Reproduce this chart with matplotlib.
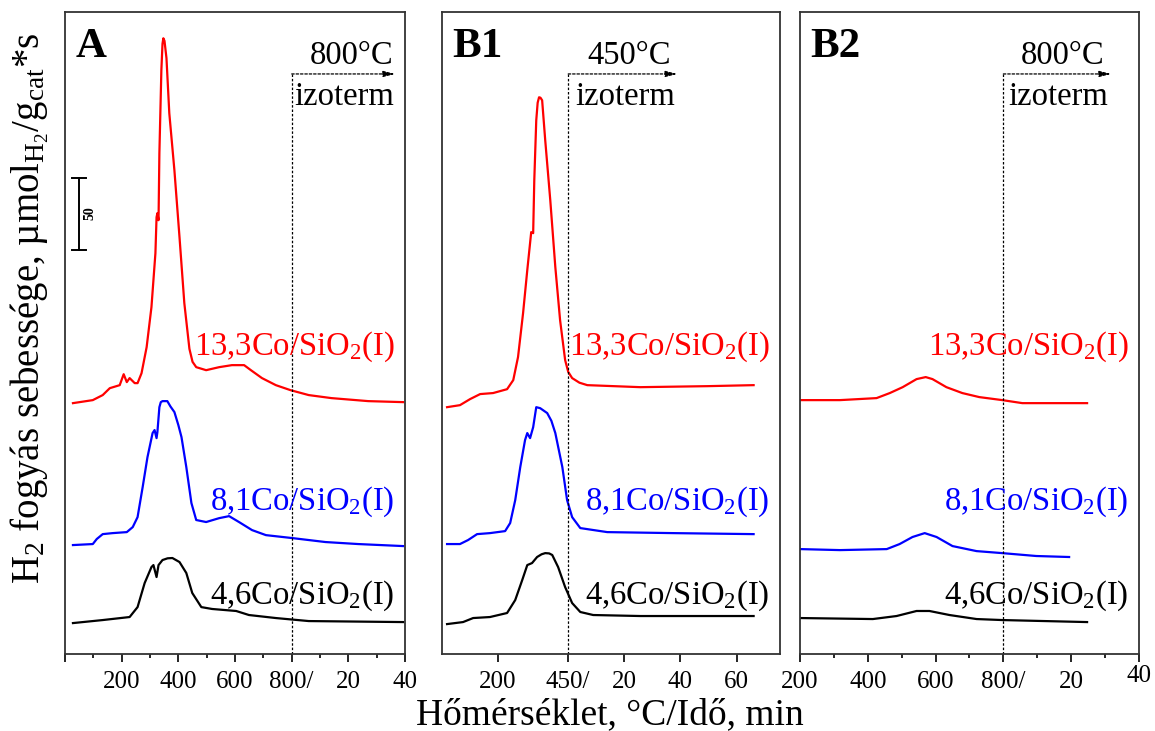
import numpy as np
import matplotlib.pyplot as plt

plt.rcParams['font.family'] = ['Liberation Serif', 'DejaVu Serif']
plt.rcParams['mathtext.fontset'] = 'custom'
plt.rcParams['mathtext.rm'] = 'Liberation Serif'
plt.rcParams['mathtext.it'] = 'Liberation Serif:italic'
plt.rcParams['mathtext.bf'] = 'Liberation Serif:bold'

# x: temperature (degC) during the ramp, then 800 (or 450) + 10*min in the isotherm
# y: H2 consumption rate, umol/(g_cat*s), each curve above its own baseline

# --- panel A (ramp to 800 C) ---
a_red_x = [28, 98, 133, 158, 193, 207, 218, 228, 246, 256, 270, 288, 305, 319, 323, 326, 330, 333, 340, 344, 347,
           351, 358, 368, 386, 404, 421, 439, 450, 463, 498, 544, 589, 632, 656, 695, 744, 796, 860, 940, 1070, 1193]
a_red_y = [0.3, 2.4, 5.9, 10.7, 12.8, 20.4, 14.9, 17.7, 14.2, 14.2, 21.1, 39.2, 67, 104.5, 129.5, 132.3, 127.4,
           173.9, 231.6, 250, 253.8, 252, 240, 201.7, 162.1, 115.6, 69.8, 38, 29, 25.3, 23.2, 25.3, 26.7, 26.7, 23.2,
           17.7, 12.8, 9.3, 5.9, 3.8, 1.7, 1.0]
a_blue_x = [28, 98, 112, 133, 168, 218, 239, 256, 274, 291, 309, 316, 323, 326, 333, 338, 344, 361, 372, 386, 400,
            411, 428, 446, 463, 498, 544, 579, 614, 660, 709, 800, 919, 1035, 1193]
a_blue_y = [0.7, 1.4, 4.9, 8.3, 9, 9.7, 13.2, 20.1, 41, 61.8, 78.5, 80.6, 75, 79.2, 96.5, 100, 100.7, 100.7, 97,
            93.1, 84, 75.7, 54.9, 29.9, 18.1, 16.7, 19.4, 20.8, 16.7, 11.1, 7.6, 5.6, 2.8, 1.4, 0]
a_black_x = [28, 133, 228, 256, 281, 305, 312, 323, 330, 344, 362, 379, 404, 428, 449, 481, 519, 604, 649, 744, 860,
             1193]
a_black_y = [0, 2.1, 4.2, 11.1, 27.8, 38.9, 40.3, 32, 40.3, 43.8, 45, 45.2, 42.4, 34.8, 20.9, 11.1, 9.8, 8.4, 5.6,
             3.5, 1.4, 0.7]

# --- panel B1 (ramp to 450 C) ---
b1_red_x = [18, 64, 100, 136, 182, 232, 254, 271, 289, 304, 318, 325, 329, 336, 341, 346, 351, 357, 368, 386, 404,
            421, 439, 450, 464, 490, 518, 707, 946, 1111]
b1_red_y = [0.5, 1.9, 6.1, 9.6, 10.3, 13, 19.3, 35.3, 65.8, 95.7, 122.1, 121.4, 158.2, 199.8, 212, 215.8, 215.5,
            213.7, 185.9, 144.3, 97.8, 60.9, 33.2, 25, 20.7, 17.5, 15.8, 14.4, 15.1, 15.8]
b1_blue_x = [18, 64, 93, 125, 171, 225, 243, 261, 279, 296, 304, 314, 325, 336, 350, 375, 390, 404, 429, 446, 464,
             493, 589, 825, 1111]
b1_blue_y = [0.4, 0.4, 3.2, 7.3, 8, 9.4, 15, 30.9, 53.9, 72.6, 77.5, 74, 81.6, 95.5, 94.8, 91.4, 86, 77.5, 53.9,
             30.9, 19.1, 11.5, 8.7, 8, 7.3]
b1_black_x = [18, 75, 111, 171, 232, 261, 286, 304, 321, 339, 355, 368, 382, 393, 414, 439, 464, 493, 539, 707, 1111]
b1_black_y = [0.3, 1.7, 4.5, 5.2, 8, 17, 30.9, 41.3, 42.7, 46.9, 48.8, 49.6, 49.4, 48.3, 39.9, 26, 14.9, 8.7, 6.6,
              5.9, 5.9]

# --- panel B2 (second run to 800 C) ---
b2_red_x = [200, 318, 426, 465, 503, 544, 571, 591, 632, 679, 729, 797, 856, 1047]
b2_red_y = [0.4, 0.4, 1.8, 5.3, 9.4, 15, 16.4, 15, 9.4, 5.3, 2.5, 0.4, -1.7, -1.7]
b2_blue_x = [200, 318, 456, 494, 532, 568, 603, 650, 721, 797, 897, 994]
b2_blue_y = [0.4, -0.3, 0.4, 3.9, 8.8, 11.5, 8.8, 2.5, -1, -2.4, -4.4, -5.1]
b2_black_x = [200, 415, 485, 544, 582, 641, 721, 797, 1047]
b2_black_y = [0.5, -0.2, 1.9, 5.4, 5.4, 2.6, -0.2, -0.9, -2.3]

samples = ['13,3Co/SiO$_2$(I)', '8,1Co/SiO$_2$(I)', '4,6Co/SiO$_2$(I)']
colors = ['#ff0000', '#0000ff', 'black']

panels = [
    dict(name='A', T_iso=800, label_T='800°C', xlim=(0, 1200),
         ticks=[0, 200, 400, 600, 800, 1000, 1200], ticklabels=['', '200', '400', '600', '800/', '20', '40'],
         minor=True, curves=[(a_red_x, a_red_y, 174), (a_blue_x, a_blue_y, 75), (a_black_x, a_black_y, 21.5)],
         arrow_end=1165, text_x=1010, izo_x=808),
    dict(name='B1', T_iso=450, label_T='450°C', xlim=(0, 1205),
         ticks=[200, 450, 650, 850, 1050], ticklabels=['200', '450/', '20', '40', '60'],
         minor=False, curves=[(b1_red_x, b1_red_y, 171), (b1_blue_x, b1_blue_y, 76), (b1_black_x, b1_black_y, 20.5)],
         arrow_end=839, text_x=668, izo_x=476),
    dict(name='B2', T_iso=800, label_T='800°C', xlim=(200, 1200),
         ticks=[200, 400, 600, 800, 1000, 1200], ticklabels=['200', '400', '600', '800/', '20', ''],
         minor=True, curves=[(b2_red_x, b2_red_y, 176), (b2_blue_x, b2_blue_y, 72.5), (b2_black_x, b2_black_y, 24.5)],
         arrow_end=1118, text_x=975, izo_x=815),
]
scale_bar = 50
y_arrow = 403

fig = plt.figure(figsize=(11.55, 7.31), dpi=100)
lefts = [0.0563, 0.3827, 0.6926]
widths = [0.2944, 0.2926, 0.2935]

for i, p in enumerate(panels):
    ax = fig.add_axes([lefts[i], 0.1053, widths[i], 0.8782])
    for (x, y, off), c in zip(p['curves'], colors):
        ax.plot(x, np.array(y) + off, color=c, lw=1.6)
    for s, c, yy in zip(samples, colors, [0.478, 0.237, 0.090]):
        ax.text(0.97, yy, s, color=c, fontsize=23.5, ha='right', va='center', transform=ax.transAxes)
    ax.text(0.03, 0.975, p['name'], fontsize=31, fontweight='bold', ha='left', va='top', transform=ax.transAxes)

    # isotherm marker
    ax.plot([p['T_iso'], p['T_iso']], [0, y_arrow], color='black', lw=0.9, ls=(0, (2, 1.5)))
    ax.annotate('', xy=(p['arrow_end'], y_arrow), xytext=(p['T_iso'], y_arrow),
                arrowprops=dict(arrowstyle='-|>,head_length=0.7,head_width=0.18', color='black',
                                lw=0.9, ls=(0, (2, 1.5)), shrinkA=0, shrinkB=0))
    ax.text(p['text_x'], y_arrow + 2, p['label_T'], fontsize=23.5, ha='center', va='bottom')
    ax.text(p['izo_x'], y_arrow - 5, 'izoterm', fontsize=23.5, ha='left', va='top')

    ax.set_xlim(p['xlim'])
    ax.set_ylim(0, 446)
    ax.set_yticks([])
    ax.set_xticks(p['ticks'])
    ax.set_xticklabels(p['ticklabels'])
    if p['minor']:
        ax.set_xticks(np.arange(p['xlim'][0] + 100, p['xlim'][1], 200), minor=True)
    ax.tick_params(axis='x', which='major', direction='out', length=6, width=1.2, labelsize=18, pad=6)
    ax.tick_params(axis='x', which='minor', direction='out', length=3, width=1.2)
    for sp in ax.spines.values():
        sp.set_linewidth(1.3)
        sp.set_color('#333333')

    if p['name'] == 'A':
        # 50 unit scale bar
        y0 = 281
        ax.plot([49, 49], [y0, y0 + scale_bar], color='black', lw=1.4)
        ax.plot([25, 75], [y0, y0], color='black', lw=1.4)
        ax.plot([25, 75], [y0 + scale_bar, y0 + scale_bar], color='black', lw=1.4)
        ax.text(88, y0 + scale_bar / 2, str(scale_bar), fontsize=10, fontweight='bold', rotation=90,
                ha='center', va='center')
    if p['name'] == 'B2':
        ax.text(1200, -0.034, '40', fontsize=18, ha='center', va='center',
                transform=ax.get_xaxis_transform())

fig.text(0.026, 0.578, 'H$_2$ fogyás sebessége, µmol$_{\\mathrm{H_2}}$/g$_{\\mathrm{cat}}$*s',
         rotation=90, fontsize=28, ha='center', va='center')
fig.text(0.528, 0.009, 'Hőmérséklet, °C/Idő, min', fontsize=27, ha='center', va='baseline')

fig.savefig('out.png', dpi=100)
